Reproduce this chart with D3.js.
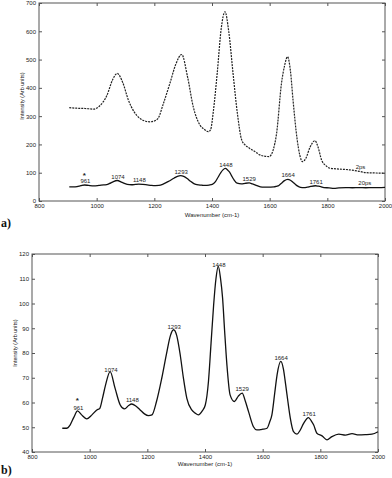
<!DOCTYPE html>
<html>
<head>
<meta charset="utf-8">
<title>Raman spectra</title>
<script src="https://cdn.jsdelivr.net/npm/d3@7/dist/d3.min.js"></script>
<style>
  body { margin:0; background:white; }
  svg text { font-family:"Liberation Sans", Arial, sans-serif; fill:#222; }
  svg text.tag { font-family:"Liberation Serif", "Times New Roman", serif; font-weight:bold; fill:#111; }
  .axis path, .axis line { stroke:#555; }
</style>
</head>
<body>
<svg id="chart" width="392" height="478"></svg>
<script>
// 20 ps spectrum (solid, shown in a) and zoomed in b)
var wn20 = [905,920,932,945,958,972,990,1008,1025,1035,1045,1055,1071,1088,1106,1121,1135,1146,1160,1175,1190,1204,1216,1232,1250,1268,1280,1291,1302,1314,1325,1337,1354,1366,1377,1390,1401,1412,1421,1430,1438,1446,1454,1461,1468,1476,1487,1502,1515,1529,1540,1551,1568,1580,1600,1615,1624,1632,1642,1650,1663,1672,1680,1688,1696,1707,1719,1730,1742,1759,1769,1777,1788,1806,1823,1840,1864,1887,1910,1933,1956,1979,2000];
var int20 = [49.6,49.6,50.9,54,56.6,55,53.4,55,57,57.6,62,67,72.5,65.8,59,57.4,58.8,59.4,58.6,57,55.4,54.7,55,60.5,69.8,80.6,87,89.4,87,79.3,70,61.7,57,55.7,55,56.5,59,68.5,84,99.5,110,115,110,102.2,89,75.2,63.1,60.4,62.5,63.8,60.5,56.3,50.2,48.9,49.2,49.6,52,55,64,71.2,76.6,73.5,67,60,53.6,48.2,47.2,48.8,51.6,53.9,52.5,50.9,47.6,46.5,44.9,46.2,47.2,46.8,47.4,46.9,47,47.2,48.2];

// 2 ps spectrum (dashed, panel a)
var wn2 = [905,930,960,990,1010,1035,1055,1071,1090,1110,1130,1150,1170,1185,1200,1213,1230,1254,1275,1295,1315,1335,1358,1375,1387,1395,1405,1418,1432,1445,1458,1473,1488,1503,1515,1531,1550,1566,1585,1598,1612,1624,1641,1652,1662,1672,1681,1695,1705,1714,1725,1740,1757,1768,1780,1795,1809,1840,1878,1910,1936,1970,2000];
var int2 = [330,328,327,325,336,372,428,451,420,357,315,292,282,280,283,292,340,416,485,518,440,333,269,252,245,252,320,451,610,669,600,451,310,216,198,186,174,163,158,157,180,239,416,480,510,460,357,220,160,139,150,190,213,190,145,125,116,113,110,105,100,99,98];

var peakWn = [961, 1074, 1148, 1293, 1448, 1529, 1664, 1761];
var peakText = ['961', '1074', '1148', '1293', '1448', '1529', '1664', '1761'];
var xTicks = [800, 1000, 1200, 1400, 1600, 1800, 2000];
var yTicksA = [0, 100, 200, 300, 400, 500, 600, 700];
var yTicksB = [40, 50, 60, 70, 80, 90, 100, 110, 120];

var svg = d3.select('#chart');
var fmt = d3.format('d');

function valueAt(w) {
  var i = d3.bisectLeft(wn20, w);
  if (i <= 0) return int20[0];
  var t = (w - wn20[i-1]) / (wn20[i] - wn20[i-1]);
  return int20[i-1] + t * (int20[i] - int20[i-1]);
}

function makePanel(box, yDomain, yTicks) {
  var x = d3.scaleLinear().domain([800, 2000]).range([box.left, box.right]);
  var y = d3.scaleLinear().domain(yDomain).range([box.bottom, box.top]);
  var g = svg.append('g');

  g.append('g').attr('class', 'axis')
    .attr('transform', 'translate(0,' + box.bottom + ')')
    .call(d3.axisBottom(x).tickValues(xTicks).tickFormat(fmt).tickSize(-3).tickSizeOuter(0).tickPadding(3))
    .selectAll('text').attr('font-size', 6);
  g.append('g').attr('class', 'axis')
    .attr('transform', 'translate(0,' + box.top + ')')
    .call(d3.axisTop(x).tickValues(xTicks).tickSize(-3).tickSizeOuter(0).tickFormat(''));
  g.append('g').attr('class', 'axis')
    .attr('transform', 'translate(' + box.left + ',0)')
    .call(d3.axisLeft(y).tickValues(yTicks).tickFormat(fmt).tickSize(-3).tickSizeOuter(0).tickPadding(3))
    .selectAll('text').attr('font-size', 6);
  g.append('g').attr('class', 'axis')
    .attr('transform', 'translate(' + box.right + ',0)')
    .call(d3.axisRight(y).tickValues(yTicks).tickSize(-3).tickSizeOuter(0).tickFormat(''));
  g.selectAll('.domain').remove();
  g.append('rect')
    .attr('x', box.left).attr('y', box.top)
    .attr('width', box.right - box.left).attr('height', box.bottom - box.top)
    .attr('fill', 'none').attr('stroke', '#555').attr('stroke-width', 1);

  return {x: x, y: y, g: g};
}

function peakLabels(p, lift, starLift) {
  p.g.selectAll('.peak')
    .data(peakWn)
    .enter().append('text')
      .attr('x', function(d) { return p.x(d); })
      .attr('y', function(d) { return p.y(valueAt(d)) - lift; })
      .attr('text-anchor', 'middle')
      .attr('font-size', 6)
      .text(function(d, i) { return peakText[i]; });
  p.g.append('text')
    .attr('x', p.x(peakWn[0]) - 1)
    .attr('y', p.y(valueAt(peakWn[0])) - lift - starLift)
    .attr('text-anchor', 'middle')
    .attr('font-size', 8)
    .attr('font-weight', 'bold')
    .text('*');
}

var line = function(p, wn, vals) {
  return d3.line()
    .x(function(d) { return p.x(d); })
    .y(function(d, i) { return p.y(vals[i]); })
    .curve(d3.curveMonotoneX)(wn);
};

// ---- panel a
var a = makePanel({left: 39, top: 3, right: 385, bottom: 201}, [0, 700], yTicksA);
a.g.append('path').attr('d', line(a, wn2, int2))
  .attr('fill', 'none').attr('stroke', '#222').attr('stroke-width', 1.2).attr('stroke-dasharray', '2,1');
a.g.append('path').attr('d', line(a, wn20, int20))
  .attr('fill', 'none').attr('stroke', '#111').attr('stroke-width', 1.3);
peakLabels(a, 2, 5.5);
a.g.append('text').attr('x', a.x(1915)).attr('y', a.y(112)).attr('text-anchor', 'middle').attr('font-size', 6).text('2ps');
a.g.append('text').attr('x', a.x(1930)).attr('y', a.y(57)).attr('text-anchor', 'middle').attr('font-size', 6).text('20ps');
a.g.append('text').attr('x', 212).attr('y', 217).attr('text-anchor', 'middle').attr('font-size', 6).text('Wavenumber (cm-1)');
a.g.append('text').attr('transform', 'translate(24,96) rotate(-90)').attr('text-anchor', 'middle').attr('font-size', 5.5).text('Intensity (Arb units)');
svg.append('text').attr('class', 'tag').attr('x', 1).attr('y', 227).attr('font-size', 12).text('a)');

// ---- panel b
var b = makePanel({left: 32, top: 254, right: 378, bottom: 452}, [40, 120], yTicksB);
b.g.append('path').attr('d', line(b, wn20, int20))
  .attr('fill', 'none').attr('stroke', '#111').attr('stroke-width', 1.3);
peakLabels(b, 2, 6.5);
b.g.append('text').attr('x', 205).attr('y', 465.5).attr('text-anchor', 'middle').attr('font-size', 6).text('Wavenumber (cm-1)');
b.g.append('text').attr('transform', 'translate(17,343) rotate(-90)').attr('text-anchor', 'middle').attr('font-size', 5.5).text('Intensity (Arb units)');
svg.append('text').attr('class', 'tag').attr('x', 1).attr('y', 474).attr('font-size', 12).text('b)');
</script>
</body>
</html>
